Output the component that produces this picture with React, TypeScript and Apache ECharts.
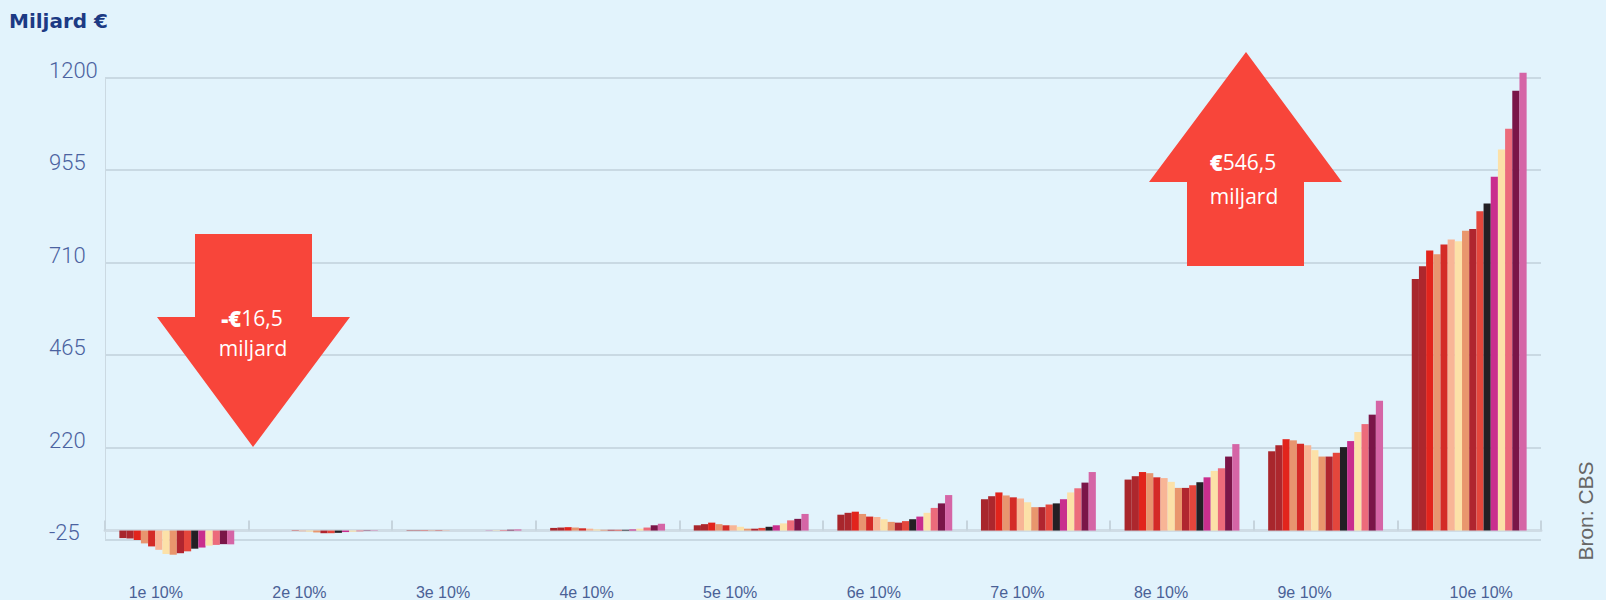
import React, { useEffect, useRef } from "react";
import * as echarts from "echarts";

const deciles = ["1e 10%", "2e 10%", "3e 10%", "4e 10%", "5e 10%", "6e 10%", "7e 10%", "8e 10%", "9e 10%", "10e 10%"];
const years = ["2006", "2007", "2008", "2009", "2010", "2011", "2012", "2013", "2014", "2015", "2016", "2017", "2018", "2019", "2020", "2021"];
const yTicks = { min: -25, max: 1200, interval: 245 };

// values per decile, one per year (miljard €)
const d1 = [-20, -21, -25, -34, -42, -51, -62, -64, -60, -55, -48, -45, -40, -38, -36, -36.5];
const d2 = [0, 0, 0, 0, -1, -2, -3, -5, -7, -7, -6, -4, -3, -2, -1, -1];
const d3 = [-1, -1, -1, -1, -1, -1, 0, 0, 0, 0, 0, 0.5, 1, 1.5, 2, 3];
const d4 = [7, 8, 9, 8, 6, 5, 3, 2, 2, 2, 2, 3, 5, 8, 14, 18];
const d5 = [14, 17, 21, 17, 14, 14, 10, 5, 5, 7, 10, 14, 19, 27, 31, 44];
const d6 = [42, 47, 50, 44, 37, 36, 30, 23, 21, 25, 30, 37, 47, 60, 72, 94];
const d7 = [83, 91, 101, 93, 88, 85, 75, 62, 62, 69, 72, 83, 101, 112, 127, 155];
const d8 = [135, 144, 155, 152, 141, 139, 129, 113, 113, 120, 128, 141, 158, 165, 196, 229];
const d9 = [210, 226, 242, 239, 230, 226, 213, 196, 196, 206, 221, 237, 261, 282, 307, 344];
const d10 = [666, 700, 742, 732, 758, 771, 766, 794, 799, 846, 866, 937, 1009, 1064, 1165, 1212.5];
const groups = [d1, d2, d3, d4, d5, d6, d7, d8, d9, d10];

const colors = [
  "#a8262c", "#ad272d", "#e2241c", "#e8956f", "#d42b27", "#f8b596", "#fce1a8", "#e9966d",
  "#b0252f", "#e4463c", "#231f24", "#c92e8e", "#fce1a8", "#ec6b7b", "#7a1548", "#d565a6",
];

const arrowColor = "#f8453a";
const downText = "{b|-€}{n|16,5}";
const upText = "{b|€}{n|546,5}";
const unitText = "miljard";

export default function App() {
  const ref = useRef<HTMLDivElement>(null);
  useEffect(() => {
    if (!ref.current) return;
    const chart = echarts.init(ref.current, undefined, { renderer: "svg" });
    const labelFont = "'Liberation Sans Narrow', 'Liberation Sans', Arial, sans-serif";
    const arrowFont = "'Open Sans', sans-serif";
    const rich = {
      b: { fontFamily: arrowFont, fontSize: 22, fontWeight: 800, fill: "#ffffff" },
      n: { fontFamily: arrowFont, fontSize: 21, fill: "#ffffff" },
    };
    chart.setOption({
      animation: false,
      backgroundColor: "#e2f3fc",
      grid: { left: 105, right: 65, top: 77.5, bottom: 51.5 },
      xAxis: {
        type: "category",
        data: deciles,
        axisLine: { onZero: true, lineStyle: { color: "#cfdce5", width: 3 } },
        axisTick: { show: true, inside: true, length: 10, lineStyle: { color: "#c6d4dd", width: 2 } },
        axisLabel: {
          margin: 44,
          formatter: (v: string, i: number) => (i === 9 ? `{r|${v}}` : `{l|${v}}`),
          rich: {
            l: { fontFamily: labelFont, fontSize: 16, color: "#4a6196", padding: [0, 42, 0, 0] },
            r: { fontFamily: labelFont, fontSize: 16, color: "#4a6196", padding: [0, 0, 0, 24] },
          },
        },
      },
      yAxis: {
        type: "value",
        min: yTicks.min,
        max: yTicks.max,
        interval: yTicks.interval,
        axisLine: { show: true, lineStyle: { color: "#cbd9e2", width: 1 } },
        axisTick: { show: false },
        splitLine: { lineStyle: { color: "#c9d9e3", width: 2 } },
        axisLabel: {
          formatter: (v: number) => String(v),
          align: "left",
          margin: 56,
          verticalAlign: "bottom",
          lineHeight: 15,
          fontSize: 22,
          fontFamily: "Roboto, sans-serif",
          fontWeight: 300,
          color: "#4b62a0",
        },
      },
      series: years.map((y, s) => ({
        type: "bar",
        name: y,
        data: groups.map((g) => g[s]),
        barGap: "0%",
        barCategoryGap: "20%",
        clip: false,
        itemStyle: { color: colors[s] },
      })),
      graphic: [
        {
          type: "text",
          left: 9,
          top: 11,
          style: { text: "Miljard €", font: "bold 20px 'DejaVu Sans', sans-serif", fill: "#1c3a84" },
        },
        {
          type: "polygon",
          z: 10,
          shape: { points: [[195, 234], [312, 234], [312, 317], [350, 317], [253, 447], [157, 317], [195, 317]] },
          style: { fill: arrowColor },
        },
        {
          type: "text",
          z: 11,
          x: 252,
          y: 318,
          style: { text: downText, rich, fill: "#ffffff", align: "center", verticalAlign: "middle" },
        },
        {
          type: "text",
          z: 11,
          x: 253,
          y: 348,
          style: { text: unitText, fontFamily: arrowFont, fontSize: 21, fill: "#ffffff", align: "center", verticalAlign: "middle" },
        },
        {
          type: "polygon",
          z: 10,
          shape: { points: [[1246, 52], [1342, 182], [1304, 182], [1304, 266], [1187, 266], [1187, 182], [1149, 182]] },
          style: { fill: arrowColor },
        },
        {
          type: "text",
          z: 11,
          x: 1243,
          y: 162,
          style: { text: upText, rich, fill: "#ffffff", align: "center", verticalAlign: "middle" },
        },
        {
          type: "text",
          z: 11,
          x: 1244,
          y: 196,
          style: { text: unitText, fontFamily: arrowFont, fontSize: 21, fill: "#ffffff", align: "center", verticalAlign: "middle" },
        },
        {
          type: "text",
          x: 1585,
          y: 511,
          rotation: Math.PI / 2,
          style: { text: "Bron: CBS", fontFamily: "'Liberation Sans', sans-serif", fontSize: 21, fill: "#666666", align: "center", verticalAlign: "middle" },
        },
      ],
    });
    return () => chart.dispose();
  }, []);
  return <div ref={ref} style={{ position: "fixed", left: 0, top: 0, width: 1606, height: 600 }} />;
}
